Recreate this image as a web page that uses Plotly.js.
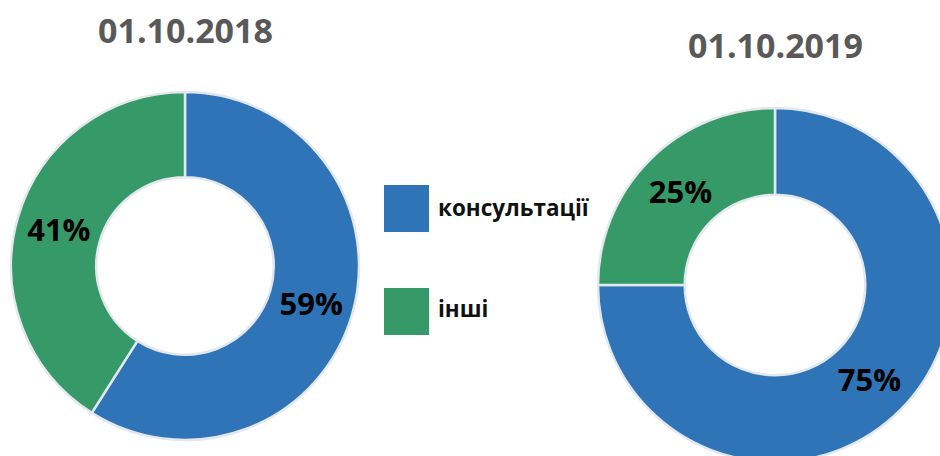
<!DOCTYPE html>
<html>
<head>
<meta charset="utf-8">
<script src="https://cdn.plot.ly/plotly-3.0.1.min.js"></script>
<style>
html,body{margin:0;padding:0;width:940px;height:456px;overflow:hidden;background:#fff;}
#chart{width:1000px;height:500px;}
</style>
</head>
<body>
<div id="chart"></div>
<script>
// Data
var categories = ["консультації", "інші"];
var values2018 = [59, 41];
var values2019 = [75, 25];
var chartTitles = ["01.10.2018", "01.10.2019"];
var sliceColors = ["#2E74B7", "#369A68"];

var W = 1000, H = 500;
function px(x){ return x / W; }
function py(y){ return 1 - y / H; }

var font = "'Open Sans', sans-serif";

function donut(vals, cx, cy, r){
  return {
    type: "pie",
    values: vals,
    labels: categories,
    sort: false,
    direction: "clockwise",
    rotation: 0,
    hole: 0.51,
    domain: {x: [px(cx - r), px(cx + r)], y: [py(cy + r), py(cy - r)]},
    marker: {colors: sliceColors, line: {color: "#e3e8ee", width: 2.5}},
    textinfo: "percent",
    textposition: "inside",
    insidetextorientation: "horizontal",
    textfont: {family: font, size: 31, color: "#000", weight: 700},
    hoverinfo: "none",
    showlegend: false
  };
}

var data = [
  donut(values2018, 185, 266, 174),
  donut(values2019, 775, 285, 177)
];

var annotations = [
  {text: chartTitles[0], x: px(185), y: py(30), xref: "paper", yref: "paper", showarrow: false,
   xanchor: "center", yanchor: "middle", font: {family: font, size: 34, color: "#595959", weight: 700}},
  {text: chartTitles[1], x: px(775), y: py(45), xref: "paper", yref: "paper", showarrow: false,
   xanchor: "center", yanchor: "middle", font: {family: font, size: 34, color: "#595959", weight: 700}},
  {text: categories[0], x: px(436), y: py(208), xref: "paper", yref: "paper", showarrow: false,
   xanchor: "left", yanchor: "middle", font: {family: font, size: 22.5, color: "#111", weight: 700}},
  {text: categories[1], x: px(436), y: py(308), xref: "paper", yref: "paper", showarrow: false,
   xanchor: "left", yanchor: "middle", font: {family: font, size: 22.5, color: "#111", weight: 700}}
];

var shapes = [
  {type: "rect", xref: "paper", yref: "paper", x0: px(384), x1: px(429), y0: py(232), y1: py(185),
   fillcolor: sliceColors[0], line: {width: 0}},
  {type: "rect", xref: "paper", yref: "paper", x0: px(384), x1: px(429), y0: py(335), y1: py(288),
   fillcolor: sliceColors[1], line: {width: 0}}
];

var layout = {
  width: W, height: H,
  margin: {l: 0, r: 0, t: 0, b: 0},
  paper_bgcolor: "#fff",
  showlegend: false,
  annotations: annotations,
  shapes: shapes
};

Plotly.newPlot("chart", data, layout, {staticPlot: true, displayModeBar: false});
</script>
</body>
</html>
